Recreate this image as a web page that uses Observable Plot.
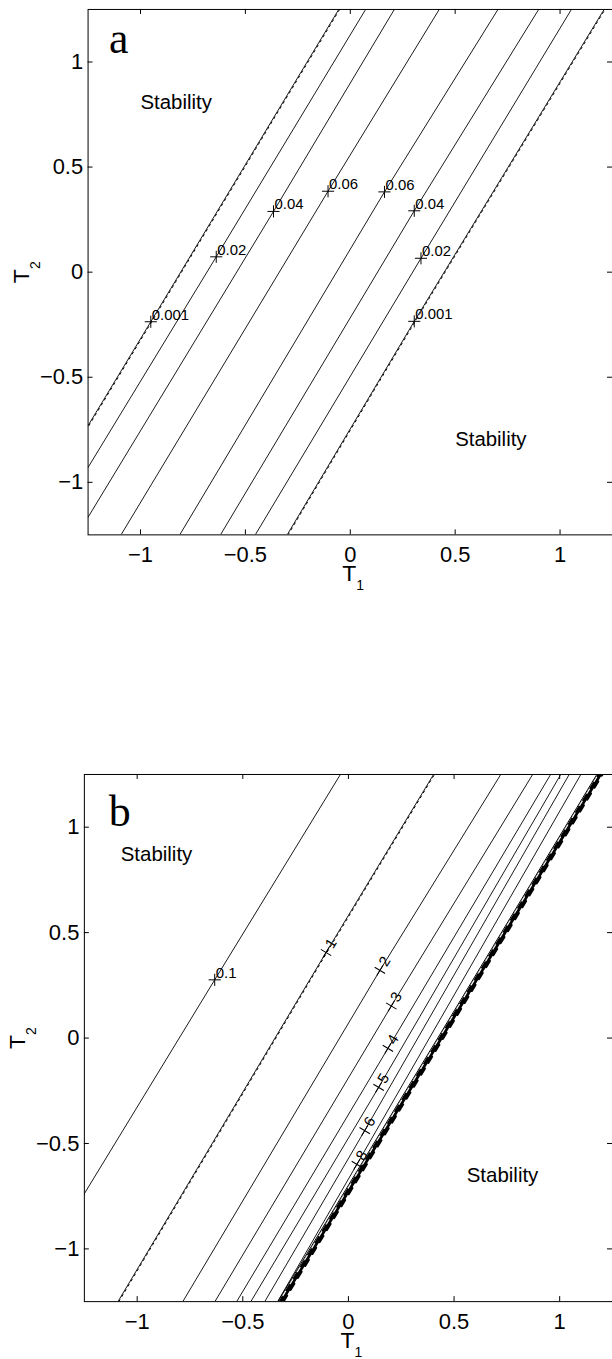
<!DOCTYPE html>
<html><head><meta charset="utf-8">
<script src="https://cdn.jsdelivr.net/npm/d3@7"></script>
<script src="https://cdn.jsdelivr.net/npm/@observablehq/plot@0.6"></script>
<style>
html,body{margin:0;padding:0;background:#fff;overflow:hidden;width:612px;height:1359px;}
.panel{position:absolute;left:0;}
#pa{top:0px}
#pb{top:765px}
</style></head><body>
<div id="pa" class="panel"></div><div id="pb" class="panel"></div>
<script>
// ---------- shared axes ----------
const domainT = [-1.25, 1.25];
const xTicks = [-1, -0.5, 0, 0.5, 1];
const yTicks = [-1, -0.5, 0, 0.5, 1];

// ---------- panel a : contour lines (edge entry, label point, top edge) ----------
const aLevels = ["0.001", "0.02", "0.04", "0.06", "0.06", "0.04", "0.02", "0.001"];
const aT1 = [
  [-1.25, -0.951, -0.055],
  [-1.25, -0.639, 0.073],
  [-1.25, -0.366, 0.210],
  [-1.093, -0.106, 0.424],
  [-0.813, 0.163, 0.704],
  [-0.619, 0.305, 0.898],
  [-0.453, 0.337, 1.054],
  [-0.301, 0.305, 1.210]
];
const aT2 = [
  [-0.730, -0.236, 1.25],
  [-0.929, 0.073, 1.25],
  [-1.166, 0.289, 1.25],
  [-1.25, 0.385, 1.25],
  [-1.25, 0.382, 1.25],
  [-1.25, 0.292, 1.25],
  [-1.25, 0.066, 1.25],
  [-1.25, -0.234, 1.25]
];
const aWavy = [0, 7];
const aNotes = ["Stability", "Stability"];
const aNoteT1 = [-1.0, 0.50];
const aNoteT2 = [0.775, -0.827];
const aTag = "a", aTagT1 = -1.15, aTagT2 = 1.043;

// ---------- panel b ----------
const bLevels = ["0.1", "1", "2", "3", "4", "5", "6", "8"];
const bT1 = [
  [-1.25, -0.633, -0.038],
  [-1.091, -0.106, 0.403],
  [-0.784, 0.149, 0.721],
  [-0.632, 0.203, 0.872],
  [-0.529, 0.187, 0.957],
  [-0.462, 0.143, 1.005],
  [-0.396, 0.077, 1.045],
  [-0.335, 0.040, 1.100]
];
const bT2 = [
  [-0.738, 0.276, 1.25],
  [-1.25, 0.406, 1.25],
  [-1.25, 0.321, 1.25],
  [-1.25, 0.152, 1.25],
  [-1.25, -0.049, 1.25],
  [-1.25, -0.234, 1.25],
  [-1.25, -0.439, 1.25],
  [-1.25, -0.599, 1.25]
];
const bWavy = [1];
const bBoundT1 = [-0.320, 0.440, 1.190];
const bBoundT2 = [-1.25, 0.005, 1.25];
const bNotes = ["Stability", "Stability"];
const bNoteT1 = [-1.078, 0.560];
const bNoteT2 = [0.839, -0.682];
const bTag = "b", bTagT1 = -1.134, bTagT2 = 1.007;

const minus = d => (d < 0 ? "\u2212" + Math.abs(d) : String(d));

function panel({levels, T1, T2, wavy, notes, noteT1, noteT2, tag, tagT1, tagT2, boundT1, boundT2,
                width, marginLeft, rotatedFrom}) {
  const height = 600, marginTop = 9, marginBottom = 63, marginRight = 0;
  const innerH = height - marginTop - marginBottom;
  const innerW = width - marginLeft - marginRight;
  const rows = levels.flatMap((lev, i) => T1[i].map((t1, j) => ({line: i, t1, t2: T2[i][j]})));
  const wavyRows = rows.filter(d => wavy.includes(d.line));
  const labels = levels.map((lev, i) => ({lev, i, t1: T1[i][1], t2: T2[i][1]}));
  const flat = labels.filter(d => d.i < rotatedFrom);
  const rot = labels.filter(d => d.i >= rotatedFrom);
  const marks = [
    Plot.line(rows, {x: "t1", y: "t2", z: "line", stroke: "black", strokeWidth: 0.9, clip: true}),
    // ripple texture of the coarse-grid contours
    Plot.line(wavyRows, {x: "t1", y: "t2", z: "line", stroke: "black", strokeWidth: 1, strokeDasharray: "2,4", dx: 0.9, clip: true})
  ];
  if (boundT1) {
    const bound = boundT1.map((t1, j) => ({t1, t2: boundT2[j]}));
    marks.push(Plot.line(bound, {x: "t1", y: "t2", stroke: "black", strokeWidth: 1, dx: -3, clip: true}));
    marks.push(Plot.line(bound, {x: "t1", y: "t2", stroke: "black", strokeWidth: 4, clip: true}));
    marks.push(Plot.line(bound, {x: "t1", y: "t2", stroke: "black", strokeWidth: 2.4, strokeDasharray: "7,7", dx: 2.5, clip: true}));
    marks.push(Plot.line(bound, {x: "t1", y: "t2", stroke: "white", strokeWidth: 1.1, strokeDasharray: "5,9", strokeDashoffset: 7, dx: -1.5, clip: true}));
  }
  marks.push(
    Plot.dot(flat, {x: "t1", y: "t2", symbol: "plus", r: 4, stroke: "black", strokeWidth: 1}),
    Plot.dot(rot, {x: "t1", y: "t2", symbol: "plus", r: 4, rotate: -59, stroke: "black", strokeWidth: 1}),
    Plot.text(flat, {x: "t1", y: "t2", text: "lev", textAnchor: "start", lineAnchor: "bottom", dx: 1, dy: -2, fontSize: 15}),
    Plot.text(rot, {x: "t1", y: "t2", text: "lev", textAnchor: "middle", lineAnchor: "middle", rotate: -59, dx: 5, dy: -9, fontSize: 15}),
    Plot.text(notes.map((n, i) => ({n, t1: noteT1[i], t2: noteT2[i]})), {x: "t1", y: "t2", text: "n", textAnchor: "start", lineAnchor: "bottom", fontSize: 20.5}),
    Plot.text([{tag, t1: tagT1, t2: tagT2}], {x: "t1", y: "t2", text: "tag", textAnchor: "start", lineAnchor: "bottom", fontSize: 44, fontFamily: "'Liberation Serif', 'Times New Roman', serif"}),
    Plot.frame({stroke: "black", strokeWidth: 1}),
    Plot.tickX(xTicks, {x: d => d, insetTop: innerH - 5, stroke: "black"}),
    Plot.tickX(xTicks, {x: d => d, insetBottom: innerH - 5, stroke: "black"}),
    Plot.tickY(yTicks, {y: d => d, insetRight: innerW - 5, stroke: "black"}),
    Plot.tickY(yTicks, {y: d => d, insetLeft: innerW - 5, stroke: "black"}),
    Plot.axisX(xTicks, {anchor: "bottom", tickSize: 0, tickPadding: 12, tickFormat: minus, label: null, fontSize: 22}),
    Plot.axisY(yTicks, {anchor: "left", tickSize: 0, tickPadding: 5, tickFormat: minus, label: null, fontSize: 22}),
    Plot.text(["T"], {frameAnchor: "bottom", lineAnchor: "bottom", textAnchor: "middle", dx: -1, dy: 46, fontSize: 23}),
    Plot.text(["1"], {frameAnchor: "bottom", lineAnchor: "bottom", textAnchor: "middle", dx: 10, dy: 55, fontSize: 14}),
    Plot.text(["T"], {frameAnchor: "left", lineAnchor: "bottom", textAnchor: "middle", rotate: -90, dx: -59, dy: 4, fontSize: 23}),
    Plot.text(["2"], {frameAnchor: "left", lineAnchor: "bottom", textAnchor: "middle", rotate: -90, dx: -48, dy: -7, fontSize: 14})
  );
  return Plot.plot({
    width, height, marginLeft, marginRight, marginTop, marginBottom,
    x: {domain: domainT, axis: null},
    y: {domain: domainT, axis: null},
    style: {fontFamily: "'Liberation Sans', Arial, Helvetica, sans-serif", fontSize: "22px", color: "black", background: "white", overflow: "visible"},
    marks
  });
}

document.getElementById("pa").append(panel({
  levels: aLevels, T1: aT1, T2: aT2, wavy: aWavy, notes: aNotes, noteT1: aNoteT1, noteT2: aNoteT2,
  tag: aTag, tagT1: aTagT1, tagT2: aTagT2, width: 615, marginLeft: 88, rotatedFrom: 99
}));
document.getElementById("pb").append(panel({
  levels: bLevels, T1: bT1, T2: bT2, wavy: bWavy, notes: bNotes, noteT1: bNoteT1, noteT2: bNoteT2,
  tag: bTag, tagT1: bTagT1, tagT2: bTagT2, boundT1: bBoundT1, boundT2: bBoundT2,
  width: 613, marginLeft: 84, rotatedFrom: 1
}));
</script>
</body></html>
